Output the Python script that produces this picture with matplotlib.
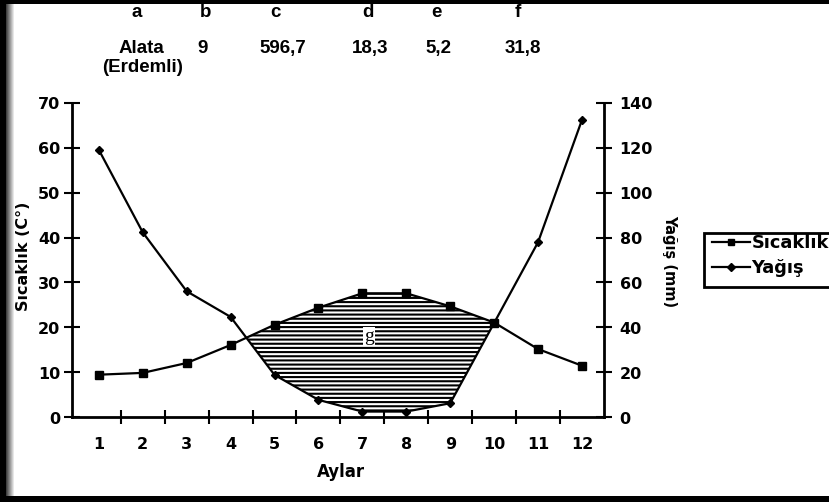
import numpy as np
import matplotlib
matplotlib.use("Agg")
import matplotlib.pyplot as plt
from matplotlib.lines import Line2D
from matplotlib.patches import Rectangle

plt.rcParams['font.family'] = ['DejaVu Sans']
plt.rcParams['font.weight'] = 'bold'
plt.rcParams['hatch.linewidth'] = 1.5

# Monthly climate data for Alata (Erdemli)
months = np.arange(1, 13)
temperature = np.array([9.5, 9.9, 12.1, 16.1, 20.6, 24.4, 27.6, 27.6, 24.7, 21.1, 15.2, 11.5])
precipitation = np.array([119.0, 82.3, 56.1, 44.7, 18.9, 7.8, 2.6, 2.6, 6.3, 42.0, 77.9, 132.3])

temp_ticks = [0, 10, 20, 30, 40, 50, 60, 70]
precip_ticks = [0, 20, 40, 60, 80, 100, 120, 140]

header_keys = ['a', 'b', 'c', 'd', 'e', 'f']
header_vals = ['Alata', '9', '596,7', '18,3', '5,2', '31,8']
station_sub = '(Erdemli)'

W, H = 829, 502
fig = plt.figure(figsize=(8.295, 5.025), dpi=100, facecolor='white')
ARIAL = ['Liberation Sans', 'DejaVu Sans']


def px(x, y):
    return x / W, 1 - y / H


def rect(x, y, w, h, **kw):
    """Rectangle given in pixel units from the top-left corner of the figure."""
    r = Rectangle(px(x, y + h), w / W, h / H, transform=fig.transFigure, **kw)
    fig.patches.append(r)
    return r


# main plotting area
x0, x1, ytop, ybot = 72, 604, 103, 417.5
ax = fig.add_axes([x0 / W, 1 - ybot / H, (x1 - x0) / W, (ybot - ytop) / H])
ax2 = ax.twinx()
ax.set_zorder(ax2.get_zorder() + 1)
ax.set_facecolor('none')

ax.plot(months, temperature, color='black', lw=1.6, marker='s', ms=6,
        clip_on=False, zorder=5)
ax2.plot(months, precipitation, color='black', lw=1.6, marker='D', ms=4.5,
         clip_on=False, zorder=5)

# dry period: scaled temperature curve above precipitation
t2 = 2 * temperature
ax2.fill_between(months, t2, precipitation, where=t2 >= precipitation,
                 interpolate=True, facecolor='white', edgecolor='black',
                 hatch='----', linewidth=0, zorder=2)
ax2.text(7.15, 36, 'g', family=['Liberation Serif', 'DejaVu Serif'],
         fontweight='normal', fontsize=14, ha='center', va='center', zorder=6,
         bbox=dict(facecolor='white', edgecolor='none', pad=0.5))

ax.set_xlim(0.39, 12.51)
ax.set_ylim(0, 70)
ax2.set_ylim(0, 140)

ax.set_yticks(temp_ticks)
ax2.set_yticks(precip_ticks)
ax.set_xticks(months)
ax.set_xticks(months[:-1] + 0.5, minor=True)

for a in (ax, ax2):
    for s in a.spines.values():
        s.set_visible(False)
ax.spines['left'].set_visible(True)
ax.spines['bottom'].set_visible(True)
ax2.spines['right'].set_visible(True)
for s in (ax.spines['left'], ax.spines['bottom'], ax2.spines['right']):
    s.set_linewidth(2)

ax.tick_params(axis='x', which='major', length=0, pad=14, labelsize=11.5)
ax.tick_params(axis='x', which='minor', direction='inout', length=10, width=1.5)
ax.tick_params(axis='y', direction='inout', length=11, width=1.5, pad=3,
               labelsize=11.5)
ax2.tick_params(axis='y', direction='inout', length=11, width=1.5, pad=5.5,
                labelsize=11.5)
for lab in ax.get_xticklabels() + ax.get_yticklabels() + ax2.get_yticklabels():
    lab.set_fontweight('bold')

# axis titles
fig.text(*px(341, 472), 'Aylar', ha='center', va='center', fontsize=12)
fig.text(*px(23, 256), 'Sıcaklık (C°)', rotation=90, ha='center',
         va='center', fontsize=11.5)
fig.text(*px(669, 261), 'Yağış (mm)', rotation=270, ha='center',
         va='center', fontsize=10.5)

# station summary header
key_x = [137, 205, 275, 368, 436, 518]
val_x = [141, 202, 283, 370, 438, 523]
for k, v, kx, vx in zip(header_keys, header_vals, key_x, val_x):
    fig.text(*px(kx, 17), k, ha='center', va='baseline', fontsize=13.5,
             family=ARIAL)
    fig.text(*px(vx, 48), v, ha='center', va='center', fontsize=13.5,
             family=ARIAL)
fig.text(*px(142, 67), station_sub, ha='center', va='center', fontsize=13.5,
         family=ARIAL)

# legend with its own box running off the right edge
rect(704, 233, 140, 54, facecolor='white', edgecolor='black', linewidth=2,
     zorder=4)
handles = [Line2D([], [], color='black', lw=1.6, marker='s', ms=5),
           Line2D([], [], color='black', lw=1.6, marker='D', ms=4.5)]
leg = fig.legend(handles, ['Sıcaklık', 'Yağış'], loc='upper left',
                 bbox_to_anchor=px(712, 234), frameon=False,
                 prop={'size': 12.8, 'weight': 'bold'},
                 handlelength=2.1, handletextpad=0.1, borderpad=0,
                 labelspacing=0.4, borderaxespad=0)
leg.set_zorder(5)


# dark page frame, drawn above everything
def strip(x, y, w, h, a):
    rect(x, y, w, h, facecolor='black', edgecolor='none', alpha=a, zorder=30)


strip(0, 0, 6, H, 1.0)
strip(0, 0, W, 4, 1.0)
strip(0, 496, W, 6, 1.0)
for i in range(8):
    strip(6 + i, 4, 1, 492, 0.75 * (8 - i) / 8)

fig.savefig('out.png', dpi=100, facecolor='white')
